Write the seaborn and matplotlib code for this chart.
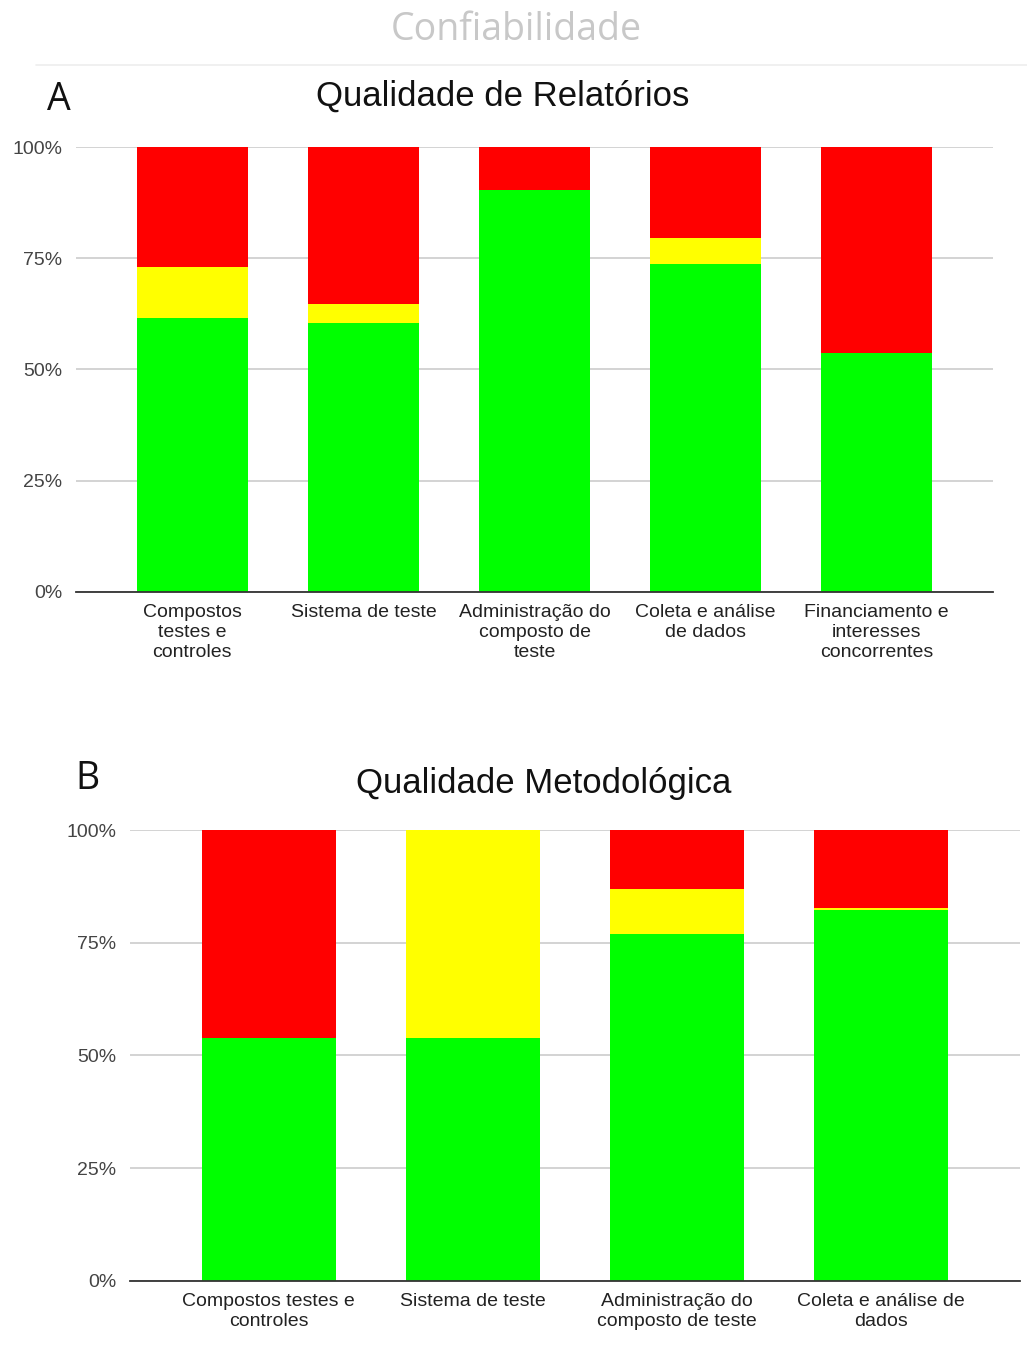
import seaborn as sns
import matplotlib.pyplot as plt
import pandas as pd

# Painel A - Qualidade de Relatórios (percentuais)
cats_a = ['Compostos\ntestes e\ncontroles', 'Sistema de teste',
          'Administração do\ncomposto de\nteste', 'Coleta e análise\nde dados',
          'Financiamento e\ninteresses\nconcorrentes']
green_a = [61.6, 60.5, 90.5, 73.8, 53.7]
yellow_a = [11.4, 4.3, 0.0, 5.9, 0.0]
red_a = [27.0, 35.2, 9.5, 20.3, 46.3]

# Painel B - Qualidade Metodológica
cats_b = ['Compostos testes e\ncontroles', 'Sistema de teste',
          'Administração do\ncomposto de teste', 'Coleta e análise de\ndados']
green_b = [53.9, 53.9, 76.9, 82.3]
yellow_b = [0.0, 46.1, 10.0, 0.4]
red_b = [46.1, 0.0, 13.1, 17.3]

GREEN, YELLOW, RED = '#00ff00', '#ffff00', '#ff0000'

sns.set_theme(style='white')
plt.rcParams['font.family'] = ['Liberation Sans', 'DejaVu Sans']


def stacked(ax, cats, green, yellow, red, width):
    df = pd.DataFrame({'cat': cats, 'g': green, 'y': yellow, 'r': red})
    df['gy'] = df['g'] + df['y']
    df['gyr'] = df['gy'] + df['r']
    # barras sobrepostas: total, verde+amarelo, verde
    for col, c in [('gyr', RED), ('gy', YELLOW), ('g', GREEN)]:
        sns.barplot(data=df, x='cat', y=col, color=c, width=width,
                    saturation=1, linewidth=0, ax=ax, order=cats)
    ax.set_ylim(0, 100)
    n = len(cats)
    ax.set_xlim(-0.68, n - 1 + 0.68)
    ax.set_yticks([0, 25, 50, 75, 100])
    ax.set_yticklabels(['0%', '25%', '50%', '75%', '100%'])
    ax.yaxis.grid(True, color='#cccccc', linewidth=1.2)
    ax.set_axisbelow(True)
    for s in ['top', 'right', 'left']:
        ax.spines[s].set_visible(False)
    ax.spines['bottom'].set_color('#333333')
    ax.spines['bottom'].set_linewidth(1.3)
    ax.set_xlabel('')
    ax.set_ylabel('')
    ax.tick_params(axis='y', length=0, pad=10, labelsize=14, labelcolor='#444444')
    ax.tick_params(axis='x', length=0, pad=9, labelsize=14, labelcolor='#222222')
    for t in ax.get_xticklabels():
        t.set_linespacing(1.22)


fig = plt.figure(figsize=(10.27, 13.69), dpi=100)

fig.text(0.503, 0.978, 'Confiabilidade', ha='center', va='center',
         fontsize=27, color='#c8c8c8', family=['Open Sans', 'DejaVu Sans'])
fig.add_artist(plt.Line2D([0.035, 1.0], [0.9525, 0.9525], color='#eeeeee',
                          linewidth=1.2, transform=fig.transFigure))

ax_a = fig.add_axes([0.074, 0.5678, 0.893, 0.3246])
stacked(ax_a, cats_a, green_a, yellow_a, red_a, 0.65)
fig.text(0.489, 0.930, 'Qualidade de Relatórios', ha='center', va='center',
         fontsize=25, color='#111111')
fig.text(0.057, 0.927, 'A', ha='center', va='center', fontsize=27,
         color='#111111', family=['Open Sans', 'DejaVu Sans'])

ax_b = fig.add_axes([0.1266, 0.0643, 0.8666, 0.3294])
stacked(ax_b, cats_b, green_b, yellow_b, red_b, 0.655)
fig.text(0.529, 0.428, 'Qualidade Metodológica', ha='center', va='center',
         fontsize=25, color='#111111')
fig.text(0.085, 0.431, 'B', ha='center', va='center', fontsize=27,
         color='#111111', family=['Open Sans', 'DejaVu Sans'])

fig.savefig('out.png', dpi=100)
